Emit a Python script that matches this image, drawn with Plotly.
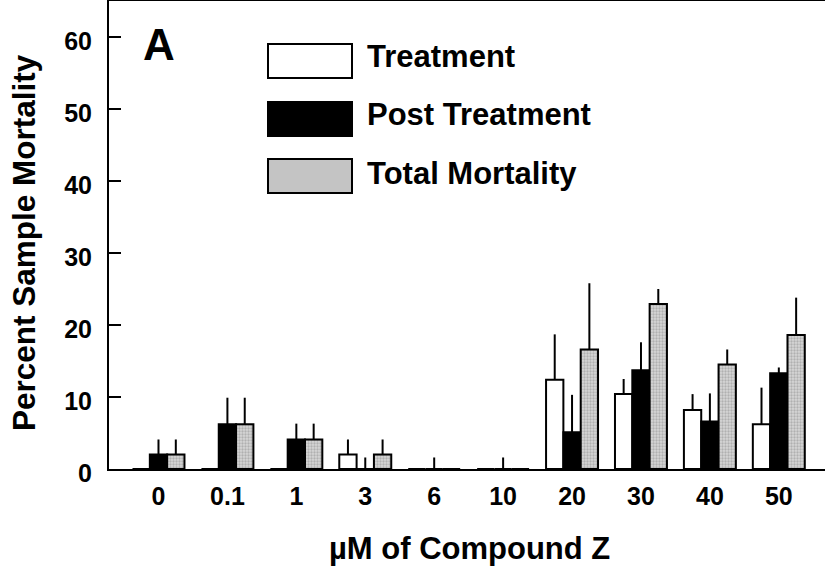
import plotly.graph_objects as go

categories = ["0", "0.1", "1", "3", "6", "10", "20", "30", "40", "50"]
treatment = [0, 0, 0, 2.0, 0, 0, 12.4, 10.4, 8.2, 6.2]
treatment_err = [0, 0, 0, 2.1, 0, 0, 6.3, 2.1, 2.2, 5.1]
post_treatment = [2.0, 6.2, 4.1, 0, 0, 0, 5.1, 13.7, 6.6, 13.3]
post_treatment_err = [2.1, 3.7, 2.2, 1.6, 1.6, 1.6, 5.2, 3.9, 3.9, 0.8]
total_mortality = [2.0, 6.2, 4.1, 2.0, 0, 0, 16.6, 22.9, 14.5, 18.6]
total_mortality_err = [2.1, 3.7, 2.2, 2.1, 0, 0, 9.2, 2.1, 2.1, 5.2]
series_names = ["Treatment", "Post Treatment", "Total Mortality"]

W, H = 825, 567
L, R, T, B = 109, 0, 1, 98
PW, PH = W - L - R, H - T - B
FONT = "Liberation Sans, Arial, Helvetica, sans-serif"


def px(x):
    return (x - L) / PW


def py(y):
    return (H - B - y) / PH


def err(arr):
    return dict(type="data", array=arr, arrayminus=[0] * len(arr), symmetric=False,
                color="black", thickness=2, width=0, visible=True)


fig = go.Figure()
fig.add_trace(go.Bar(x=categories, y=treatment, name=series_names[0], error_y=err(treatment_err),
                     marker=dict(color="white", line=dict(color="black", width=2))))
fig.add_trace(go.Bar(x=categories, y=post_treatment, name=series_names[1], error_y=err(post_treatment_err),
                     marker=dict(color="black", line=dict(color="black", width=2))))
fig.add_trace(go.Bar(x=categories, y=total_mortality, name=series_names[2], error_y=err(total_mortality_err),
                     marker=dict(color="#c8c8c8", line=dict(color="black", width=2),
                                 pattern=dict(shape=".", fgcolor="#8a8a8a", bgcolor="#d6d6d6",
                                              size=3, solidity=0.45))))

fig.update_layout(
    width=W, height=H,
    margin=dict(l=L, r=R, t=T, b=B, pad=0),
    paper_bgcolor="white", plot_bgcolor="white",
    barmode="group", bargap=0.246, bargroupgap=0,
    showlegend=False,
    font=dict(family=FONT, color="black", size=25, weight="bold"),
    xaxis=dict(type="category", range=[-0.718, 9.67], showgrid=False, zeroline=False,
               showline=True, linecolor="black", linewidth=2, mirror=True,
               ticks="", ticklabelstandoff=4,
               tickfont=dict(family=FONT, size=25, color="black", weight="bold")),
    yaxis=dict(range=[0, 65], tickvals=[0, 10, 20, 30, 40, 50, 60], showgrid=False, zeroline=False,
               showline=True, linecolor="black", linewidth=2, mirror=False,
               ticks="inside", ticklen=12, tickwidth=2, tickcolor="black",
               ticklabelstandoff=10, ticklabelshift=4,
               tickfont=dict(family=FONT, size=25, color="black", weight="bold")),
)

annos = [
    dict(text="A", x=px(159), y=py(44), font=dict(size=44)),
    dict(text="Percent Sample Mortality", x=px(24), y=py(243), textangle=-90, font=dict(size=31.5)),
    dict(text="µM of Compound Z", x=px(469), y=py(548), font=dict(size=31)),
]
leg_y = [56, 114, 173]
for name, yy in zip(series_names, leg_y):
    annos.append(dict(text=name, x=px(365), y=py(yy), xanchor="left", font=dict(size=31)))
for a in annos:
    a.setdefault("xanchor", "center")
    a.update(xref="paper", yref="paper", yanchor="middle", showarrow=False)
    a["font"].update(family=FONT, color="black", weight="bold")
fig.update_layout(annotations=annos)

box_fill = ["white", "black", "#c4c4c4"]
box_y = [(44, 78), (102, 136), (159, 193)]
for fc, (y0, y1) in zip(box_fill, box_y):
    fig.add_shape(type="rect", xref="paper", yref="paper", x0=px(268), x1=px(352),
                  y0=py(y1), y1=py(y0), fillcolor=fc, line=dict(color="black", width=2))

fig.write_html("out.html")
